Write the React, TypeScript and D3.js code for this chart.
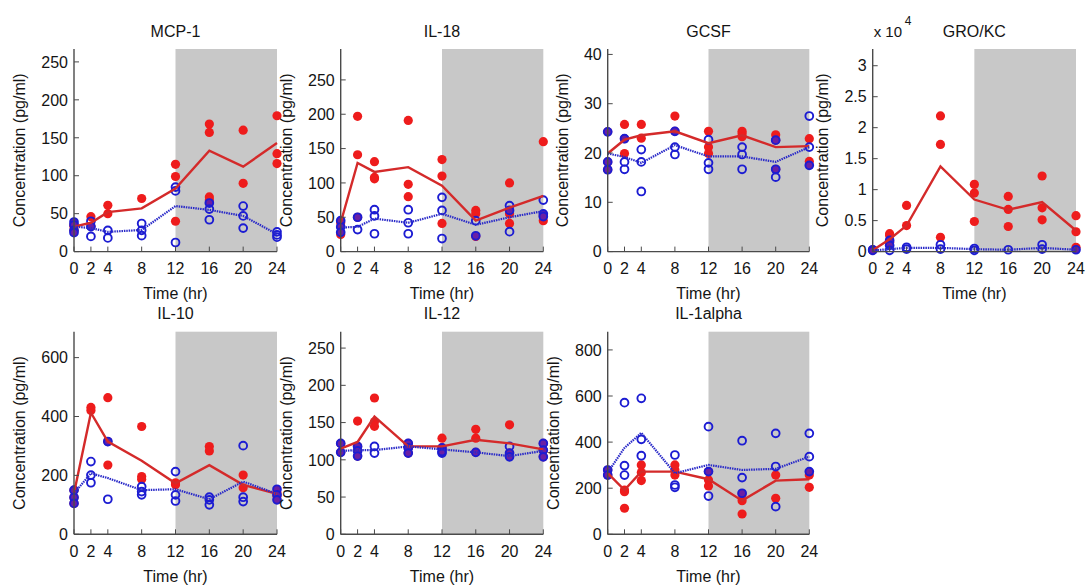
import React from "react";
import * as d3 from "d3";

// ---------- data ----------
const times = [0, 2, 4, 8, 12, 16, 20, 24];

// MCP-1
const mcpRed = [[35, 33, 28], [46, 33], [61, 50], [70], [115, 99, 40], [168, 157, 72, 68], [160, 90], [179, 129, 116]];
const mcpBlue = [[39, 35, 28, 25], [40, 33, 20], [28, 18], [37, 28, 21], [85, 80, 12], [64, 56, 42], [60, 47, 31], [26, 22, 19]];
const mcpRedMean = [33, 38, 52, 57, 83, 133, 112, 143];
const mcpBlueMean = [33, 31, 26, 28.5, 60, 55, 47, 23];

// IL-18
const il18Red = [[42, 25], [197, 141, 50], [131, 108, 106], [191, 98, 80], [134, 110, 41], [60, 55, 22], [100, 55, 41], [160, 52, 45]];
const il18Blue = [[45, 36, 28], [50, 32], [61, 52, 26], [61, 42, 26], [79, 60, 19], [45, 23], [67, 60, 29], [75, 55, 51]];
const il18RedMean = [42, 129, 116, 123, 96, 45, 64, 81];
const il18BlueMean = [35, 36, 48, 42, 55, 39, 50, 59];

// GCSF
const gcsfRed = [[24.3, 18.2, 16.6], [25.8, 22.9, 19.9], [25.8, 23], [27.5, 24.4], [24.4, 21.2, 19.9], [24.4, 23.9, 23.3], [23.7, 22.6, 16.7], [22.9, 18.3]];
const gcsfBlue = [[24.3, 18.2, 16.6], [22.9, 18.2, 16.7], [20.7, 18.2, 12.2], [24.4, 21.2, 19.7], [22.7, 18, 16.7], [21.2, 19.7, 16.7], [22.6, 16.7, 15.1], [27.5, 21.2, 17.5]];
const gcsfRedMean = [19.9, 22.7, 23.6, 24.4, 22, 23.6, 21.2, 21.4];
const gcsfBlueMean = [19.9, 19.2, 18, 21.6, 19.3, 19.3, 18.2, 21.2];

// GRO/KC (pg/ml)
const groRed = [[300, 200], [2900, 2600, 1500], [7450, 4200], [21900, 17300, 2300], [10850, 9440, 4860], [8900, 6800, 4050], [12200, 7070, 5130], [5800, 3200, 700]];
const groBlue = [[300, 200], [1800, 1000, 200], [700, 400], [1100, 400], [500, 200], [300], [1100, 400], [300]];
const groRedMean = [200, 2000, 4200, 13760, 8400, 6750, 8000, 3400];
const groBlueMean = [200, 400, 600, 600, 400, 300, 600, 300];

// IL-10
const il10Red = [[150, 125, 105], [431, 420], [464, 315, 235], [366, 196, 187], [175, 168], [298, 283], [201, 158], [141, 130]];
const il10Blue = [[150, 125, 105], [247, 201, 175], [315, 119], [162, 145, 134], [213, 134, 113], [126, 117, 100], [301, 126, 111], [153, 134, 117]];
const il10RedMean = [139, 413, 315, 250, 173, 235, 168, 137];
const il10BlueMean = [139, 207, 191, 150, 153, 119, 179, 137];

// IL-12
const il12Red = [[122, 110], [152, 118, 105], [183, 151, 145], [122, 116, 109], [129, 116], [141, 129, 110], [147, 109], [122, 113, 104]];
const il12Blue = [[122, 110], [118, 112, 105], [118, 109], [122, 116, 109], [116, 111, 109], [110], [118, 109, 104], [122, 113, 104]];
const il12RedMean = [115, 124, 158, 118, 118, 127, 122, 114];
const il12BlueMean = [112, 113, 113, 118, 114, 110, 105, 112];

// IL-1alpha
const il1aRed = [[279, 257], [192, 185, 113], [301, 268, 233], [301, 279, 257], [272, 236, 210], [175, 146, 88], [257, 156], [257, 204]];
const il1aBlue = [[279, 257], [571, 298, 257], [590, 412, 341], [344, 214, 204], [467, 272, 166], [406, 246, 178], [438, 294, 120], [438, 337, 272]];
const il1aRedMean = [265, 192, 272, 272, 239, 146, 233, 239];
const il1aBlueMean = [268, 375, 440, 265, 301, 279, 284, 337];

// ---------- styling / layout ----------
const FONT = "'Liberation Sans', Arial, Helvetica, sans-serif";
const FS = 16;
const AXIS = "#4a4a4a";
const TXT = "#141414";
const GRAY = "#c8c8c8";
const RED_DOT = "#ee1c1c";
const RED_LINE = "#d42a2a";
const BLUE = "#1c1cd2";
const BLUE_LINE = "#2a2ac8";
const PURPLE = "#6a1fa4";

const cols = [
  [74, 277],
  [340.7, 543.3],
  [607.7, 809.3],
  [872.7, 1076],
];
const rows = [
  { top: 49, bottom: 251.6 },
  { top: 331.7, bottom: 534.3 },
];

type PanelDef = {
  title: string;
  col: number;
  row: number;
  yMax: number;
  yTicks: number[];
  scale?: number;
  exponent?: string;
  red: number[][];
  blue: number[][];
  redMean: number[];
  blueMean: number[];
};

const panels: PanelDef[] = [
  { title: "MCP-1", col: 0, row: 0, yMax: 267, yTicks: [0, 50, 100, 150, 200, 250], red: mcpRed, blue: mcpBlue, redMean: mcpRedMean, blueMean: mcpBlueMean },
  { title: "IL-18", col: 1, row: 0, yMax: 295, yTicks: [0, 50, 100, 150, 200, 250], red: il18Red, blue: il18Blue, redMean: il18RedMean, blueMean: il18BlueMean },
  { title: "GCSF", col: 2, row: 0, yMax: 41.1, yTicks: [0, 10, 20, 30, 40], red: gcsfRed, blue: gcsfBlue, redMean: gcsfRedMean, blueMean: gcsfBlueMean },
  { title: "GRO/KC", col: 3, row: 0, yMax: 32700, yTicks: [0, 5000, 10000, 15000, 20000, 25000, 30000], scale: 10000, exponent: "4", red: groRed, blue: groBlue, redMean: groRedMean, blueMean: groBlueMean },
  { title: "IL-10", col: 0, row: 1, yMax: 688, yTicks: [0, 200, 400, 600], red: il10Red, blue: il10Blue, redMean: il10RedMean, blueMean: il10BlueMean },
  { title: "IL-12", col: 1, row: 1, yMax: 272, yTicks: [0, 50, 100, 150, 200, 250], red: il12Red, blue: il12Blue, redMean: il12RedMean, blueMean: il12BlueMean },
  { title: "IL-1alpha", col: 2, row: 1, yMax: 879, yTicks: [0, 200, 400, 600, 800], red: il1aRed, blue: il1aBlue, redMean: il1aRedMean, blueMean: il1aBlueMean },
];

function approxWidth(s: string) {
  let w = 0;
  for (const c of s) w += c === "." ? 0.278 : 0.556;
  return w * FS;
}

function Panel({ p }: { p: PanelDef }) {
  const [xl, xr] = cols[p.col];
  const { top, bottom } = rows[p.row];
  const x = d3.scaleLinear().domain([0, 24]).range([xl, xr]);
  const y = d3.scaleLinear().domain([0, p.yMax]).range([bottom, top]);
  const sc = p.scale ?? 1;
  const fmt = (v: number) => String(+(v / sc).toFixed(2));
  const tickLabels = p.yTicks.map(fmt);
  const maxW = Math.max(...tickLabels.map(approxWidth));
  const labelX = xl - 6 - maxW - 22;
  const cx = (xl + xr) / 2;
  const cy = (top + bottom) / 2;

  const line = d3
    .line<number>()
    .x((_, i) => x(times[i]))
    .y((d) => y(d));

  const redPts: { t: number; v: number }[] = [];
  p.red.forEach((vals, i) => vals.forEach((v) => redPts.push({ t: times[i], v })));
  const bluePts: { t: number; v: number; purple: boolean }[] = [];
  p.blue.forEach((vals, i) =>
    vals.forEach((v) => {
      const purple = p.red[i].some((r) => Math.abs(y(r) - y(v)) < 4.5);
      bluePts.push({ t: times[i], v, purple });
    })
  );

  const tick = 5;
  return (
    <g>
      <rect x={x(12)} y={top} width={x(24) - x(12)} height={bottom - top} fill={GRAY} />
      {redPts.map((d, i) => (
        <circle key={"r" + i} cx={x(d.t)} cy={y(d.v)} r={4.6} fill={RED_DOT} />
      ))}
      {bluePts.map((d, i) => (
        <circle
          key={"b" + i}
          cx={x(d.t)}
          cy={y(d.v)}
          r={3.9}
          fill={d.purple ? PURPLE : "none"}
          stroke={BLUE}
          strokeWidth={1.9}
        />
      ))}
      <path d={line(p.redMean) || ""} fill="none" stroke={RED_LINE} strokeWidth={2.4} />
      <path d={line(p.blueMean) || ""} fill="none" stroke={BLUE_LINE} strokeWidth={2.2} strokeDasharray="1.5,0.9" />
      {/* axes */}
      <line x1={xl} x2={xl} y1={top} y2={bottom} stroke={AXIS} strokeWidth={1.4} />
      <line x1={xl} x2={xr} y1={bottom} y2={bottom} stroke={AXIS} strokeWidth={1.4} />
      {p.yTicks.map((t, i) => (
        <g key={"yt" + i}>
          <line x1={xl} x2={xl + tick} y1={y(t)} y2={y(t)} stroke={AXIS} strokeWidth={1} />
          <text x={xl - 6} y={y(t)} dy="0.36em" textAnchor="end" fontSize={FS} fill={TXT}>
            {tickLabels[i]}
          </text>
        </g>
      ))}
      {times.map((t, i) => (
        <g key={"xt" + i}>
          <line x1={x(t)} x2={x(t)} y1={bottom} y2={bottom - tick} stroke={AXIS} strokeWidth={1} />
          <text x={x(t)} y={bottom + 17} dy="0.36em" textAnchor="middle" fontSize={FS} fill={TXT}>
            {t}
          </text>
        </g>
      ))}
      <text x={cx} y={bottom + 42} dy="0.36em" textAnchor="middle" fontSize={FS} fill={TXT}>
        Time (hr)
      </text>
      <text x={cx} y={top - 18} dy="0.36em" textAnchor="middle" fontSize={FS} fill={TXT}>
        {p.title}
      </text>
      <text
        transform={`translate(${labelX},${cy}) rotate(-90)`}
        dy="0.36em"
        textAnchor="middle"
        fontSize={FS}
        fill={TXT}
      >
        Concentration (pg/ml)
      </text>
      {p.exponent && (
        <g>
          <text x={xl + 1} y={top - 17} dy="0.36em" fontSize={15} fill={TXT}>
            x 10
          </text>
          <text x={xl + 32} y={top - 28} dy="0.36em" fontSize={12} fill={TXT}>
            {p.exponent}
          </text>
        </g>
      )}
    </g>
  );
}

export default function App() {
  return (
    <svg
      width={1086}
      height={586}
      style={{ position: "absolute", left: 0, top: 0, background: "#fff" }}
      fontFamily={FONT}
    >
      <rect x={0} y={0} width={1086} height={586} fill="#fff" />
      {panels.map((p, i) => (
        <Panel key={i} p={p} />
      ))}
    </svg>
  );
}
